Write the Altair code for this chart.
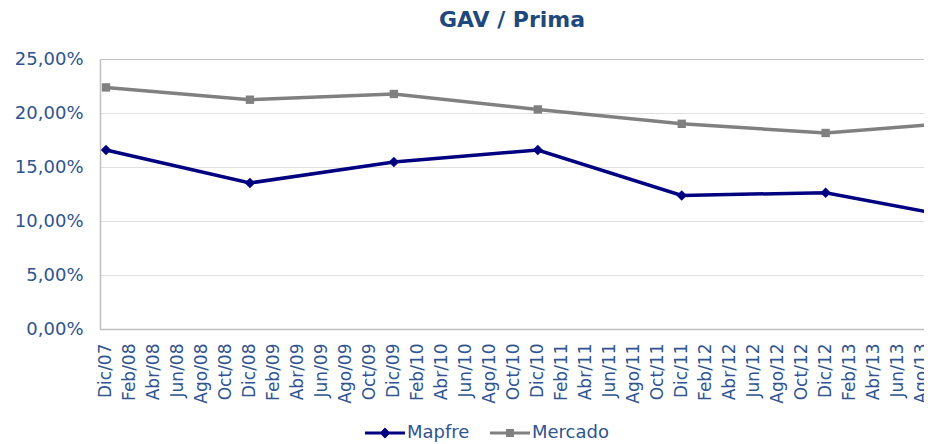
import altair as alt
import pandas as pd

# ---- data ----
months = [0, 12, 24, 36, 48, 60, 72]          # months since Dic/07
mapfre = [16.57, 13.52, 15.46, 16.57, 12.37, 12.62, 10.11]
mercado = [22.37, 21.23, 21.76, 20.33, 19.00, 18.15, 19.20]
series_names = ["Mapfre", "Mercado"]
series_colors = ["#000080", "#808080"]
series_shapes = ["diamond", "square"]
tick_labels = [
    "Dic/07", "Feb/08", "Abr/08", "Jun/08", "Ago/08", "Oct/08",
    "Dic/08", "Feb/09", "Abr/09", "Jun/09", "Ago/09", "Oct/09",
    "Dic/09", "Feb/10", "Abr/10", "Jun/10", "Ago/10", "Oct/10",
    "Dic/10", "Feb/11", "Abr/11", "Jun/11", "Ago/11", "Oct/11",
    "Dic/11", "Feb/12", "Abr/12", "Jun/12", "Ago/12", "Oct/12",
    "Dic/12", "Feb/13", "Abr/13", "Jun/13", "Ago/13",
]
y_ticks = [0, 5, 10, 15, 20, 25]

rows = []
for name, vals in zip(series_names, [mapfre, mercado]):
    for m, v in zip(months, vals):
        rows.append({"mes": m, "serie": name, "valor": v})
df = pd.DataFrame(rows)

label_arr = "[" + ",".join("'" + t + "'" for t in tick_labels) + "]"
x_values = [2 * i for i in range(len(tick_labels))]

FONT = "DejaVu Sans"
TXT = "#2F5490"

x_enc = alt.X(
    "mes:Q",
    scale=alt.Scale(domain=[-0.5, 68.2], nice=False, zero=False),
    axis=alt.Axis(
        values=x_values,
        labelExpr=label_arr + "[datum.value/2]",
        labelAngle=-90,
        labelAlign="right",
        labelBaseline="middle",
        labelPadding=14,
        labelFontSize=17,
        labelColor=TXT,
        labelFont=FONT,
        ticks=False,
        grid=False,
        domainColor="#BFBFBF",
        domainWidth=1.5,
        title=None,
        labelOverlap=False,
        labelBound=False,
        labelFlush=False,
    ),
)
y_enc = alt.Y(
    "valor:Q",
    scale=alt.Scale(domain=[0, 25], nice=False),
    axis=alt.Axis(
        values=y_ticks,
        labelExpr="replace(format(datum.value, '.2f'), '.', ',') + '%'",
        labelPadding=17,
        labelFontSize=18,
        labelColor=TXT,
        labelFont=FONT,
        ticks=False,
        grid=True,
        gridColor={"condition": {"test": "datum.value === 25", "value": "#BFBFBF"}, "value": "#E0E0E0"},
        gridWidth=1.2,
        domainColor="#BFBFBF",
        domainWidth=1.5,
        title=None,
    ),
)

layers = []
for name, col, shp in zip(series_names, series_colors, series_shapes):
    base = alt.Chart(df).transform_filter(alt.datum.serie == name)
    layers.append(
        base.mark_line(color=col, strokeWidth=3.5, clip=True).encode(x=x_enc, y=y_enc)
    )
    layers.append(
        base.mark_point(color=col, filled=True, opacity=1, shape=shp,
                        size=110 if shp == "diamond" else 70, clip=True)
        .encode(x=x_enc, y=y_enc)
    )

legend_paths = [
    "M-1,-0.075H1V0.075H-1Z M0,-0.27L0.27,0L0,0.27L-0.27,0Z",
    "M-1,-0.075H1V0.075H-1Z M-0.2,-0.2H0.2V0.2H-0.2Z",
]


def make_legend():
    return alt.Legend(
        title=None,
        orient="none",
        direction="horizontal",
        legendX=265,
        legendY=354,
        symbolSize=1600,
        symbolStrokeWidth=0,
        labelOffset=2,
        columnPadding=20,
        labelFontSize=18,
        labelColor=TXT,
        labelFont=FONT,
        padding=0,
    )


legend_layer = (
    alt.Chart(df)
    .transform_filter("false")
    .mark_point(filled=True, opacity=1)
    .encode(
        x=x_enc,
        y=y_enc,
        color=alt.Color(
            "serie:N",
            scale=alt.Scale(domain=series_names, range=series_colors),
            legend=make_legend(),
        ),
        shape=alt.Shape(
            "serie:N",
            scale=alt.Scale(domain=series_names, range=legend_paths),
            legend=make_legend(),
        ),
    )
)

chart = (
    alt.layer(*layers, legend_layer)
    .properties(
        width=824,
        height=270,
        autosize=alt.AutoSizeParams(type="none"),
        padding={"left": 92, "top": 51, "right": 0, "bottom": 115},
        title=alt.TitleParams(
            "GAV / Prima",
            font=FONT,
            fontSize=22,
            fontWeight="bold",
            color="#1F497D",
            anchor="middle",
            offset=18,
        ),
    )
    .configure_view(stroke=None)
    .configure(background="white")
)

chart.save("out.html", embed_options={"renderer": "svg", "actions": False})
